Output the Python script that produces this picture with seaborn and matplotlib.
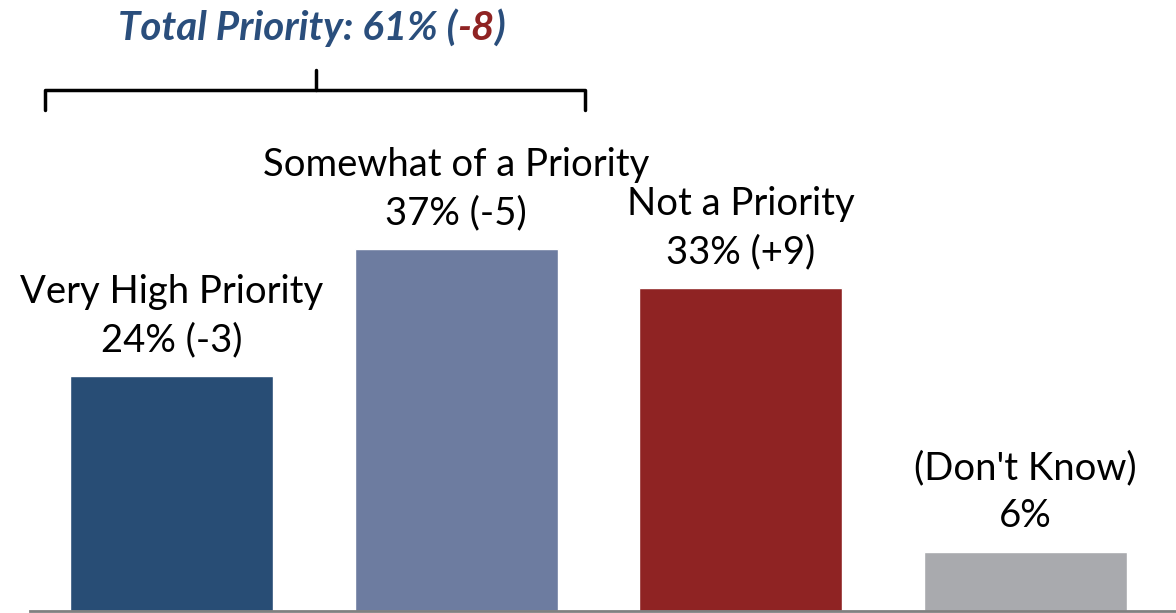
import matplotlib
matplotlib.use('Agg')
import matplotlib.pyplot as plt
import seaborn as sns
import pandas as pd

# data
categories = ["Very High Priority", "Somewhat of a Priority", "Not a Priority", "(Don't Know)"]
values = [24, 37, 33, 6]
changes = ["(-3)", "(-5)", "(+9)", ""]
colors = ["#284d75", "#6d7ca0", "#8f2323", "#a9aaae"]
total_value = 61
total_change = "-8"

sns.set_theme(style="white")
plt.rcParams['font.family'] = ['Lato', 'DejaVu Sans']

df = pd.DataFrame({"category": categories, "value": values})

fig = plt.figure(figsize=(11.76, 6.13), dpi=100)
ax = fig.add_axes([30 / 1176, 2 / 613, 1146 / 1176, 609 / 613])

sns.barplot(data=df, x="category", y="value", hue="category", palette=colors,
            width=0.713, legend=False, ax=ax, saturation=1)

ax.set_xlim(-0.497, 3.529)
ax.set_ylim(0, 62.3)
ax.set_xlabel("")
ax.set_ylabel("")
ax.set_xticks([])
ax.set_yticks([])
for side in ["top", "right", "left"]:
    ax.spines[side].set_visible(False)
ax.spines["bottom"].set_color("#808080")
ax.spines["bottom"].set_linewidth(2)

# value labels above the bars
for i, (cat, val, chg) in enumerate(zip(categories, values, changes)):
    label = f"{cat}\n{val}% {chg}".rstrip()
    ax.annotate(label, xy=(i, val), xytext=(0, 13), textcoords="offset points",
                ha="center", va="bottom", fontsize=27.5, color="black",
                linespacing=1.42)

# total priority header with coloured change
title_kw = dict(fontsize=29, fontweight="bold", fontstyle="italic")
t1 = fig.text(118 / 1176, 1 - 40 / 613, f"Total Priority: {total_value}% (",
              color="#2a4e7c", ha="left", va="baseline", **title_kw)
t2 = ax.annotate(total_change, xy=(1, 0), xycoords=t1, va="bottom", ha="left",
                 color="#8f2323", **title_kw)
ax.annotate(")", xy=(1, 0), xycoords=t2, va="bottom", ha="left",
            color="#2a4e7c", **title_kw)

# brace over the first two bars
H, W = 613, 1176
xl, xr, xc = 45 / W, 585 / W, 316 / W
yh, ye, yt = 1 - 90 / H, 1 - 110 / H, 1 - 70 / H
brace_kw = dict(color="black", linewidth=2.5, solid_capstyle="round",
                solid_joinstyle="round", transform=fig.transFigure)
fig.add_artist(plt.Line2D([xl, xl, xr, xr], [ye, yh, yh, ye], **brace_kw))
fig.add_artist(plt.Line2D([xc, xc], [yh, yt], **brace_kw))

fig.savefig("out.png", dpi=100)
